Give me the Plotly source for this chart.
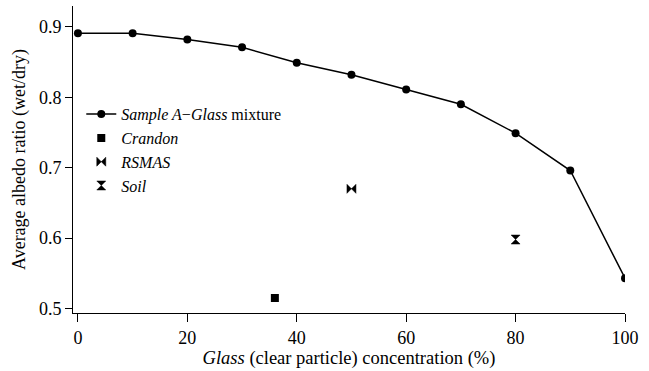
import plotly.graph_objects as go

# Albedo ratio (wet/dry) versus glass concentration
glass_pct = [0, 10, 20, 30, 40, 50, 60, 70, 80, 90, 100]
mixture_ratio = [0.891, 0.891, 0.882, 0.871, 0.849, 0.832, 0.811, 0.790, 0.749, 0.696, 0.543]

crandon_x = [36]
crandon_y = [0.515]
rsmas_x = [50]
rsmas_y = [0.670]
soil_x = [80]
soil_y = [0.598]

x_ticks = [0, 20, 40, 60, 80, 100]
y_ticks = [0.5, 0.6, 0.7, 0.8, 0.9]

serif = "'Liberation Serif', 'Times New Roman', Times, serif"

fig = go.Figure()
fig.add_trace(go.Scatter(
    x=glass_pct, y=mixture_ratio, mode="lines+markers",
    name="<i>Sample A</i>\u2212<i>Glass</i> mixture",
    line=dict(color="black", width=1.5),
    marker=dict(symbol="circle", size=8, color="black"),
))
fig.add_trace(go.Scatter(
    x=crandon_x, y=crandon_y, mode="markers", name="<i>Crandon</i>",
    marker=dict(symbol="square", size=8, color="black"),
))
fig.add_trace(go.Scatter(
    x=rsmas_x, y=rsmas_y, mode="markers", name="<i>RSMAS</i>",
    marker=dict(symbol="bowtie", size=9, color="black", line=dict(color="black", width=0.5)),
))
fig.add_trace(go.Scatter(
    x=soil_x, y=soil_y, mode="markers", name="<i>Soil</i>",
    marker=dict(symbol="hourglass", size=9, color="black", line=dict(color="black", width=0.5)),
))

fig.update_layout(
    width=649, height=371,
    margin=dict(l=73, r=24, t=6, b=56),
    paper_bgcolor="white", plot_bgcolor="white",
    font=dict(family=serif, size=18, color="black"),
    showlegend=True,
    legend=dict(
        x=0.015, y=0.703, xanchor="left", yanchor="top",
        bgcolor="rgba(0,0,0,0)", font=dict(family=serif, size=16, color="black"),
        tracegroupgap=0,
    ),
    xaxis=dict(
        range=[-0.9, 100], tickvals=x_ticks, ticks="outside", ticklen=8, tickwidth=1,
        tickcolor="black", showline=True, linecolor="black", linewidth=1,
        showgrid=False, zeroline=False,
        tickfont=dict(family=serif, size=18),
        title=dict(text="<i>Glass</i> (clear particle) concentration (%)",
                   font=dict(family=serif, size=18.5), standoff=4),
    ),
    yaxis=dict(
        range=[0.4937, 0.9296], tickvals=y_ticks, tickformat=".1f", ticks="outside",
        ticklen=7, tickwidth=1, tickcolor="black", showline=True, linecolor="black",
        linewidth=1, showgrid=False, zeroline=False,
        tickfont=dict(family=serif, size=18),
        title=dict(text="Average albedo ratio (wet/dry)",
                   font=dict(family=serif, size=18), standoff=8),
    ),
)

fig.write_html("out.html")
